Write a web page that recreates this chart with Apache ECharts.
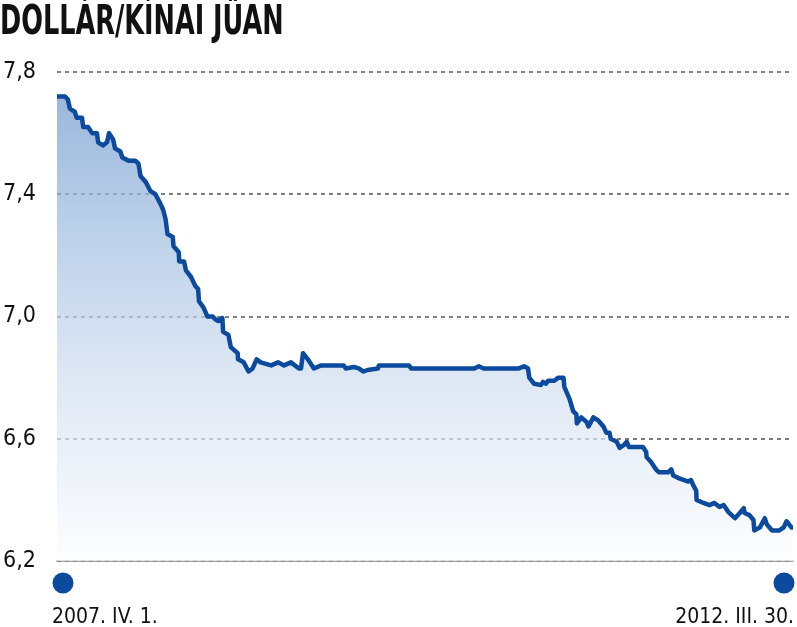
<!DOCTYPE html>
<html>
<head>
<meta charset="utf-8">
<title>Dollár/kínai jüan</title>
<script src="https://cdn.jsdelivr.net/npm/echarts@6/dist/echarts.min.js"></script>
<style>
  html, body { margin: 0; padding: 0; background: #fff; }
  #chart { width: 797px; height: 627px; }
</style>
</head>
<body>
<div id="chart"></div>
<script>
// USD/CNY
var dates = [
  '2007-04-01','2007-04-21','2007-04-28','2007-05-03','2007-05-15','2007-05-20','2007-06-02','2007-06-05','2007-06-17','2007-06-27',
  '2007-07-09','2007-07-12','2007-07-24','2007-08-03','2007-08-08','2007-08-18','2007-08-23','2007-09-05','2007-09-10','2007-09-25',
  '2007-10-12','2007-10-20','2007-10-25','2007-11-07','2007-11-19','2007-12-01','2007-12-13','2007-12-20','2007-12-26','2007-12-31',
  '2008-01-13','2008-01-15','2008-01-28','2008-01-29','2008-02-10','2008-02-15','2008-02-27','2008-03-09','2008-03-16','2008-03-18',
  '2008-03-29','2008-04-08','2008-04-21','2008-04-28','2008-05-05','2008-05-15','2008-05-17','2008-05-30','2008-06-05','2008-06-22',
  '2008-06-23','2008-07-07','2008-07-19','2008-07-29','2008-08-08','2008-08-18','2008-09-13','2008-09-30','2008-10-15','2008-11-01',
  '2008-11-21','2008-11-26','2008-12-01','2008-12-13','2008-12-28','2009-01-15','2009-03-12','2009-03-17','2009-04-06','2009-04-18',
  '2009-04-30','2009-05-10','2009-06-05','2009-06-07','2009-08-21','2009-08-26','2010-01-30','2010-02-10','2010-02-22','2010-05-20',
  '2010-06-02','2010-06-12','2010-06-15','2010-06-27','2010-07-14','2010-07-19','2010-07-26','2010-08-01','2010-08-16','2010-08-26',
  '2010-09-08','2010-09-10','2010-09-23','2010-10-02','2010-10-10','2010-10-11','2010-10-22','2010-11-04','2010-11-09','2010-11-11',
  '2010-11-21','2010-12-03','2010-12-16','2010-12-23','2010-12-31','2011-01-03','2011-01-05','2011-01-18','2011-01-25','2011-02-05',
  '2011-02-12','2011-02-17','2011-03-24','2011-04-01','2011-04-02','2011-04-13','2011-04-25','2011-05-03','2011-05-25','2011-06-02',
  '2011-06-07','2011-06-15','2011-06-22','2011-07-14','2011-07-21','2011-07-26','2011-08-03','2011-08-04','2011-08-21','2011-09-05',
  '2011-09-17','2011-09-30','2011-10-10','2011-10-22','2011-11-07','2011-11-19','2011-11-29','2011-12-01','2011-12-13','2011-12-23',
  '2011-12-25','2012-01-08','2012-01-20','2012-01-25','2012-02-07','2012-02-25','2012-03-07','2012-03-14','2012-03-26','2012-03-30'
];
var rates = [
  7.72, 7.72, 7.71, 7.68, 7.67, 7.65, 7.65, 7.62, 7.62, 7.60,
  7.60, 7.57, 7.56, 7.57, 7.60, 7.58, 7.55, 7.54, 7.52, 7.51,
  7.51, 7.50, 7.46, 7.44, 7.41, 7.40, 7.37, 7.35, 7.32, 7.27,
  7.26, 7.23, 7.21, 7.18, 7.18, 7.15, 7.13, 7.10, 7.09, 7.05,
  7.03, 7.00, 7.00, 6.99, 6.985, 6.995, 6.95, 6.94, 6.90, 6.88,
  6.86, 6.85, 6.82, 6.83, 6.86, 6.85, 6.84, 6.85, 6.84, 6.85,
  6.83, 6.83, 6.88, 6.86, 6.83, 6.84, 6.84, 6.83, 6.835, 6.83,
  6.82, 6.825, 6.83, 6.84, 6.84, 6.83, 6.83, 6.837, 6.83, 6.83,
  6.837, 6.83, 6.80, 6.78, 6.776, 6.786, 6.78, 6.79, 6.79, 6.80,
  6.80, 6.77, 6.73, 6.69, 6.68, 6.65, 6.67, 6.655, 6.64, 6.645,
  6.67, 6.66, 6.64, 6.62, 6.62, 6.60, 6.60, 6.59, 6.57, 6.58,
  6.59, 6.573, 6.573, 6.557, 6.54, 6.524, 6.50, 6.49, 6.49, 6.50,
  6.48, 6.475, 6.47, 6.46, 6.465, 6.45, 6.43, 6.40, 6.39, 6.383,
  6.39, 6.377, 6.383, 6.36, 6.34, 6.357, 6.373, 6.357, 6.35, 6.334,
  6.30, 6.31, 6.34, 6.32, 6.30, 6.30, 6.31, 6.33, 6.31, 6.31
];
var yTicks = [6.2, 6.6, 7.0, 7.4, 7.8];

var font = "'Liberation Sans Narrow', 'DejaVu Sans Condensed', 'Open Sans', sans-serif";
var blue = '#0b4a9c';
var roman = ['I','II','III','IV','V','VI','VII','VIII','IX','X','XI','XII'];

// 2007-04-01 -> "2007. IV. 1."
function huDate(s) {
  var p = s.split('-');
  return p[0] + '. ' + roman[+p[1] - 1] + '. ' + (+p[2]) + '.';
}

var series = dates.map(function (d, i) { return [d, rates[i]]; });
var first = dates[0], last = dates[dates.length - 1];

var chart = echarts.init(document.getElementById('chart'));
chart.setOption({
  animation: false,
  grid: { left: 57, right: 4, top: 72, bottom: 66 },
  graphic: [{
    type: 'text',
    x: 0, y: 4,
    scaleX: 0.71,
    style: {
      text: 'DOLLÁR/KÍNAI JÜAN',
      font: 'bold 40px ' + font,
      fill: '#111',
      verticalAlign: 'top'
    }
  }],
  xAxis: {
    type: 'time',
    min: first,
    max: last,
    axisLine: { show: true, lineStyle: { color: '#8a8a8a', width: 1.5 } },
    axisTick: { show: false },
    axisLabel: { show: false },
    splitLine: { show: false }
  },
  yAxis: {
    type: 'value',
    min: yTicks[0],
    max: yTicks[yTicks.length - 1],
    interval: 0.4,
    axisLine: { show: false },
    axisTick: { show: false },
    axisLabel: {
      align: 'left',
      margin: 54,
      padding: [8, 0, 0, 0],
      fontFamily: font,
      fontSize: 23,
      color: '#111',
      formatter: function (v) { return v.toFixed(1).replace('.', ','); }
    },
    splitLine: { lineStyle: { color: '#555', width: 1.5, type: [4, 4] } }
  },
  series: [{
    type: 'line',
    data: series,
    symbol: 'none',
    lineStyle: { color: blue, width: 4.5, join: 'round' },
    areaStyle: {
      color: new echarts.graphic.LinearGradient(0, 0, 0, 1, [
        { offset: 0, color: '#6e98cc' },
        { offset: 0.3, color: '#a0bde0' },
        { offset: 0.6, color: '#cfdcee' },
        { offset: 1, color: '#fbfcfe' }
      ])
    },
    markPoint: {
      symbol: 'circle',
      symbolSize: 21,
      itemStyle: { color: blue },
      label: {
        show: true,
        position: 'inside',
        fontFamily: font,
        fontSize: 21,
        color: '#111'
      },
      data: [
        { coord: [first, yTicks[0]], symbolOffset: [6, 22],
          label: { formatter: huDate(first), align: 'left', offset: [-11, 35] } },
        { coord: [last, yTicks[0]], symbolOffset: [-9, 22],
          label: { formatter: huDate(last), align: 'right', offset: [10, 35] } }
      ]
    }
  }]
});
</script>
</body>
</html>
